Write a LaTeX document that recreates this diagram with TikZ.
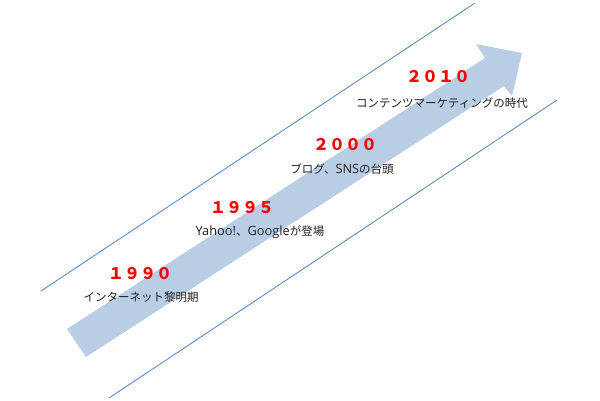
\documentclass[tikz,border=0pt]{standalone}
\usepackage{fontspec}
\newfontfamily\jp{Noto Sans CJK JP}
\newfontfamily\lat{Open Sans}
\newcommand\latin[1]{{\lat\fontsize{12.8}{12}\selectfont #1}}
\definecolor{linecol}{RGB}{79,129,189}
\definecolor{arrowcol}{RGB}{185,205,228}
\definecolor{yearred}{RGB}{255,0,0}
\definecolor{txt}{RGB}{30,30,30}
\tikzset{
  guide/.style={draw=linecol, line width=0.8pt},
  year/.style={font=\jp\fontsize{16}{16}\selectfont\bfseries, text=yearred, inner sep=0pt},
  desc/.style={font=\jp\fontsize{11.5}{12}\selectfont, text=txt, inner sep=0pt}
}
\begin{document}
\begin{tikzpicture}[x=1pt,y=-1pt]
\useasboundingbox (0,0) rectangle (600,400);
% guide lines
\coordinate (u1) at (41,291);
\coordinate (u2) at (475,3);
\coordinate (l1) at (109,398);
\coordinate (l2) at (557,100);
\draw[guide] (u1) -- (u2);
\draw[guide] (l1) -- (l2);
% arrow
\fill[arrowcol] (67,329) -- (485,58) -- (476,44) -- (522,53) -- (512,96) -- (504,86) -- (86,357) -- cycle;
% labels
\node[year] (y1990) at (140,274) {１９９０};
\node[desc] (d1990) at (141,297) {インターネット黎明期};
\node[year] (y1995) at (242,208) {１９９５};
\node[desc] (d1995) at (260,232) {\latin{Yahoo!}、\latin{Google}が登場};
\node[year] (y2000) at (345,145) {２０００};
\node[desc] (d2000) at (342,169) {ブログ、\latin{SNS}の台頭};
\node[year] (y2010) at (438,77) {２０１０};
\node[desc] (d2010) at (442,103) {コンテンツマーケティングの時代};
\end{tikzpicture}
\end{document}
